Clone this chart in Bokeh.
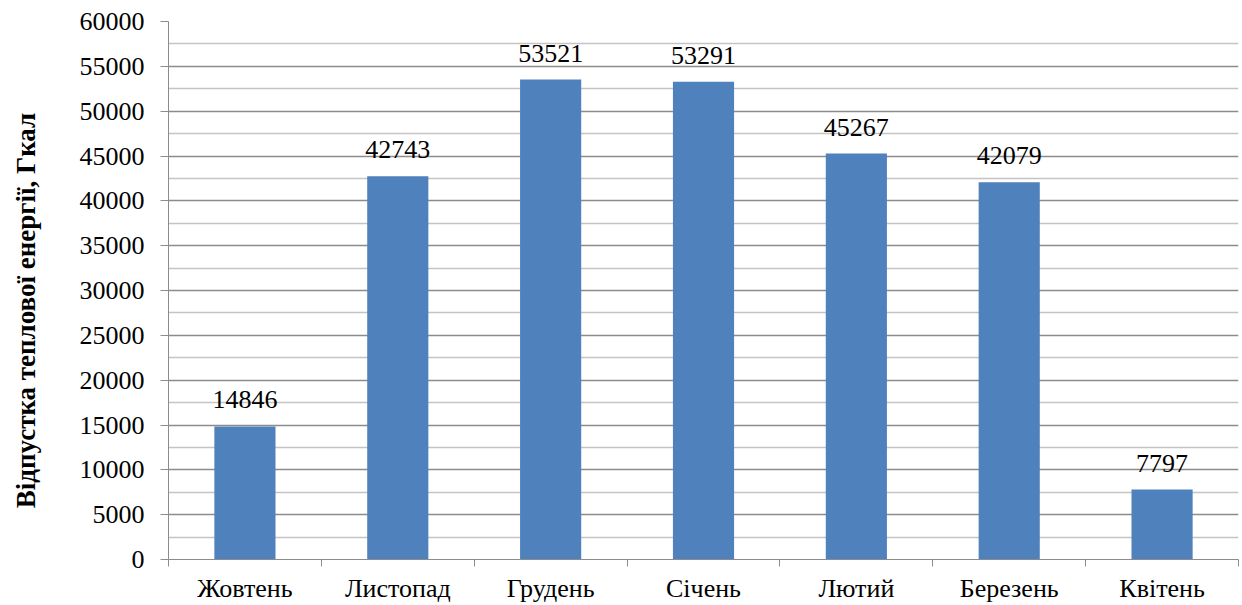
import math
from bokeh.plotting import figure
from bokeh.layouts import row
from bokeh.models import (ColumnDataSource, FixedTicker, LabelSet, Range1d)
from bokeh.core.properties import value
from bokeh.embed import file_html
from bokeh.resources import INLINE

# Heat energy supply by month, Gcal
months = ["Жовтень", "Листопад", "Грудень", "Січень", "Лютий", "Березень", "Квітень"]
supply = [14846, 42743, 53521, 53291, 45267, 42079, 7797]
y_title = "Відпустка теплової енергії, Гкал"

FONT = "Liberation Serif"
BAR = "#4F81BD"
MAJOR = "#8C8C8C"
MINOR = "#C4C4C4"

centers = [i + 0.5 for i in range(len(months))]
bounds = list(range(len(months) + 1))

source = ColumnDataSource(dict(x=centers, top=supply,
                               label=[str(v) for v in supply]))

p = figure(width=1192, height=605, output_backend="svg", toolbar_location=None,
           x_range=Range1d(0, len(months)), y_range=Range1d(0, 60000),
           min_border_left=118, min_border_right=4, min_border_top=21,
           min_border_bottom=45)
p.outline_line_color = None
p.background_fill_color = "white"
p.border_fill_color = "white"

p.vbar(x="x", top="top", bottom=0, width=0.4, source=source,
       fill_color=BAR, line_color=None)

# value printed above each bar
p.add_layout(LabelSet(x="x", y="top", text="label", source=source,
                      text_align="center", text_baseline="alphabetic",
                      y_offset=18, text_font=value(FONT), text_font_size="26px",
                      text_color="black"))

# x axis: month names centred under bars, tick marks between months
xa = p.xaxis[0]
xa.ticker = FixedTicker(ticks=centers, minor_ticks=bounds)
xa.major_label_overrides = {c: m for c, m in zip(centers, months)}
xa.major_tick_line_color = None
xa.major_tick_out = 0
xa.major_tick_in = 0
xa.minor_tick_line_color = MAJOR
xa.minor_tick_out = 7
xa.minor_tick_in = 0
xa.axis_line_color = MAJOR
xa.major_label_text_font = FONT
xa.major_label_text_font_size = "26px"
xa.major_label_text_color = "black"
xa.major_label_standoff = 7

# y axis: every 5000 with a lighter line halfway between
ya = p.yaxis[0]
ya.ticker = FixedTicker(ticks=list(range(0, 60001, 5000)),
                        minor_ticks=list(range(2500, 60000, 5000)))
ya.axis_line_color = MAJOR
ya.major_tick_line_color = MAJOR
ya.major_tick_out = 8
ya.major_tick_in = 0
ya.minor_tick_line_color = None
ya.major_label_text_font = FONT
ya.major_label_text_font_size = "26px"
ya.major_label_text_color = "black"
ya.major_label_standoff = 16

p.xgrid.grid_line_color = None
p.ygrid.grid_line_color = MAJOR
p.ygrid.grid_line_width = 1.5
p.ygrid.minor_grid_line_color = MINOR
p.ygrid.minor_grid_line_width = 1.5

# narrow strip on the left carrying the vertical axis title
t = figure(width=50, height=605, output_backend="svg", toolbar_location=None,
           x_range=Range1d(0, 50), y_range=Range1d(0, 605),
           x_axis_location=None, y_axis_location=None,
           min_border_left=0, min_border_right=0, min_border_top=0,
           min_border_bottom=0)
t.outline_line_color = None
t.grid.visible = False
t.text(x=[25], y=[280], text=[y_title], angle=math.pi / 2,
       text_align="center", text_baseline="middle",
       text_font=value(FONT), text_font_style="bold",
       text_font_size="27px", text_color="black")

open("out.html", "w").write(file_html(row(t, p, spacing=0), INLINE))
